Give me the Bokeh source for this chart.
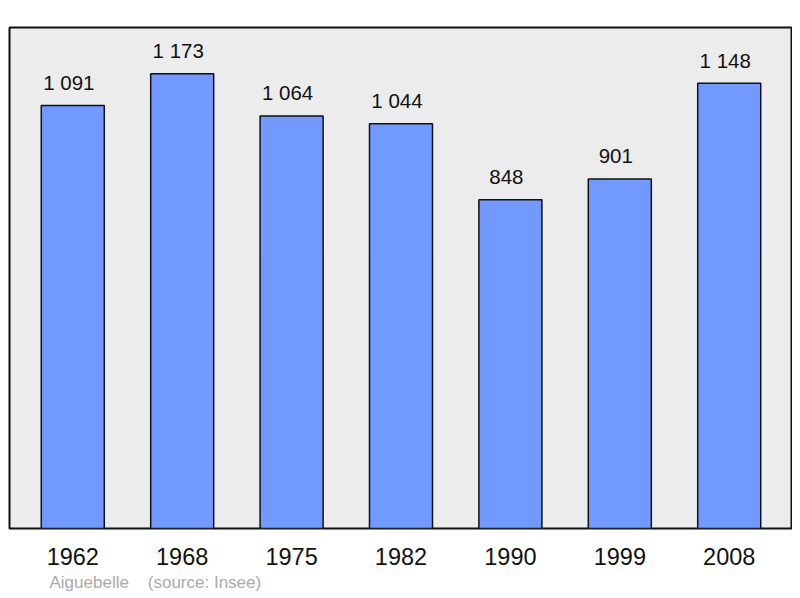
from bokeh.plotting import figure
from bokeh.models import FactorRange, Range1d, Title, ColumnDataSource
from bokeh.core.properties import value
from bokeh.embed import file_html
from bokeh.resources import INLINE

years = ["1962", "1968", "1975", "1982", "1990", "1999", "2008"]
population = [1091, 1173, 1064, 1044, 848, 901, 1148]
labels = ["{:,}".format(v).replace(",", " ") for v in population]
town = "Aiguebelle"
source_note = "(source: Insee)"

src = ColumnDataSource(dict(year=years, pop=population, lab=labels))

p = figure(width=792, height=597, output_backend="svg", toolbar_location=None,
           x_range=FactorRange(factors=years, range_padding=0.0224),
           y_range=Range1d(0, 1292), y_axis_location=None,
           min_border_left=9, min_border_right=0, min_border_top=27, min_border_bottom=69)

p.background_fill_color = "#ececec"
p.border_fill_color = "white"
p.outline_line_color = "#111111"
p.outline_line_width = 2
p.xgrid.visible = False
p.ygrid.visible = False

p.vbar(x="year", top="pop", width=0.576, source=src, fill_color="#7299ff",
       line_color="#111111", line_width=1.5)

p.text(x="year", y="pop", text="lab", source=src, y_offset=-23, x_offset=-4,
       text_align="center", text_baseline="alphabetic",
       text_font=value("Liberation Sans"), text_font_size="20.5px", text_color="#111111")

ax = p.xaxis[0]
ax.axis_line_color = None
ax.major_tick_line_color = None
ax.minor_tick_line_color = None
ax.major_label_standoff = 13
ax.major_label_text_font = "Liberation Sans"
ax.major_label_text_font_size = "23.5px"
ax.major_label_text_color = "#111111"

p.add_layout(Title(text=town + "\u00a0\u00a0\u00a0\u00a0" + source_note, align="left", offset=40,
                   text_font="Liberation Sans", text_font_size="17px", text_font_style="normal",
                   text_color="#aaaaaa", standoff=7), "below")

open("out.html", "w").write(file_html(p, INLINE))
